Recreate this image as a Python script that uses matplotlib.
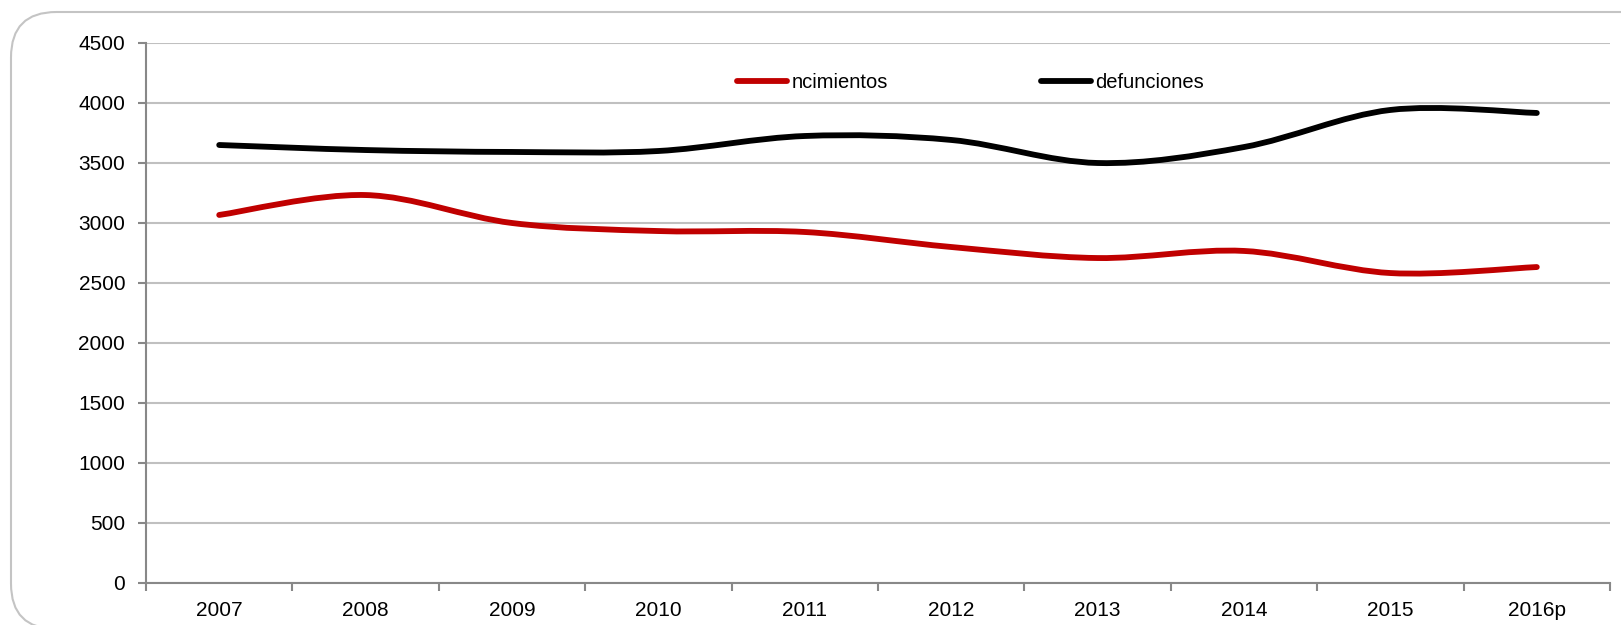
import numpy as np
import matplotlib
matplotlib.use("Agg")
from matplotlib import pyplot as plt
from matplotlib.path import Path
from matplotlib.patches import PathPatch, FancyBboxPatch
from matplotlib.lines import Line2D

years = ["2007", "2008", "2009", "2010", "2011", "2012", "2013", "2014", "2015", "2016p"]
nacimientos = [3067, 3233, 3000, 2933, 2925, 2800, 2708, 2767, 2583, 2633]
defunciones = [3650, 3608, 3592, 3600, 3725, 3692, 3500, 3633, 3942, 3917]
yticks = [0, 500, 1000, 1500, 2000, 2500, 3000, 3500, 4000, 4500]

plt.rcParams['font.family'] = ['Liberation Sans', 'DejaVu Sans']

def smooth_path(xs, ys):
    # excel-like smoothed line: catmull-rom segments as cubic bezier
    pts = np.column_stack([xs, ys]).astype(float)
    n = len(pts)
    verts = [pts[0]]
    codes = [Path.MOVETO]
    for i in range(n - 1):
        p0 = pts[i - 1] if i > 0 else pts[i]
        p1 = pts[i]
        p2 = pts[i + 1]
        p3 = pts[i + 2] if i + 2 < n else pts[i + 1]
        c1 = p1 + (p2 - p0) / 6.0
        c2 = p2 - (p3 - p1) / 6.0
        verts += [c1, c2, p2]
        codes += [Path.CURVE4] * 3
    return Path(verts, codes)

fig = plt.figure(figsize=(16.21, 6.25), dpi=100)
ax = fig.add_axes([146 / 1621, 1 - 583 / 625, 1464 / 1621, 540 / 625])

# rounded frame around the chart (right and bottom run off the picture)
frame = FancyBboxPatch((11 / 1621, -4 / 625), 1750 / 1621, 617 / 625,
                       boxstyle="round,pad=0,rounding_size=0.028",
                       transform=fig.transFigure, fill=False,
                       edgecolor="#c4c4c4", linewidth=1.5, clip_on=False,
                       mutation_aspect=1621 / 625)
fig.patches.append(frame)

x = np.arange(len(years))
for vals, col in [(nacimientos, "#c00000"), (defunciones, "black")]:
    ax.add_patch(PathPatch(smooth_path(x, vals), fill=False, edgecolor=col,
                           linewidth=4.2, capstyle="round", joinstyle="round", zorder=3))

ax.set_xlim(-0.5, len(years) - 0.5)
ax.set_ylim(0, 4500)
ax.set_yticks(yticks)
ax.set_yticklabels([str(v) for v in yticks], fontsize=15)
ax.yaxis.grid(True, color="#c0c0c0", linewidth=1.5)
ax.set_axisbelow(True)

ax.set_xticks(x)
ax.set_xticklabels(years, fontsize=15)
ax.set_xticks(np.arange(len(years) + 1) - 0.5, minor=True)
ax.tick_params(axis="x", which="major", length=0, pad=13)
ax.tick_params(axis="x", which="minor", length=6, color="#888888", width=1.5)
ax.tick_params(axis="y", length=6, color="#888888", width=1.5, pad=9)

for s in ["top", "right"]:
    ax.spines[s].set_visible(False)
for s in ["left", "bottom"]:
    ax.spines[s].set_color("#888888")
    ax.spines[s].set_linewidth(1.5)

handles = [Line2D([], [], color="#c00000", linewidth=4.2, solid_capstyle="round"),
           Line2D([], [], color="black", linewidth=4.2, solid_capstyle="round")]
ax.legend(handles, ["ncimientos", "defunciones"], loc="center left",
          bbox_to_anchor=(0.4037, 0.926), ncol=2, frameon=False, fontsize=14.5,
          handlelength=2.5, handletextpad=0.2, columnspacing=7.6,
          borderpad=0, borderaxespad=0)

plt.savefig("out.png", format="png", dpi=100)
